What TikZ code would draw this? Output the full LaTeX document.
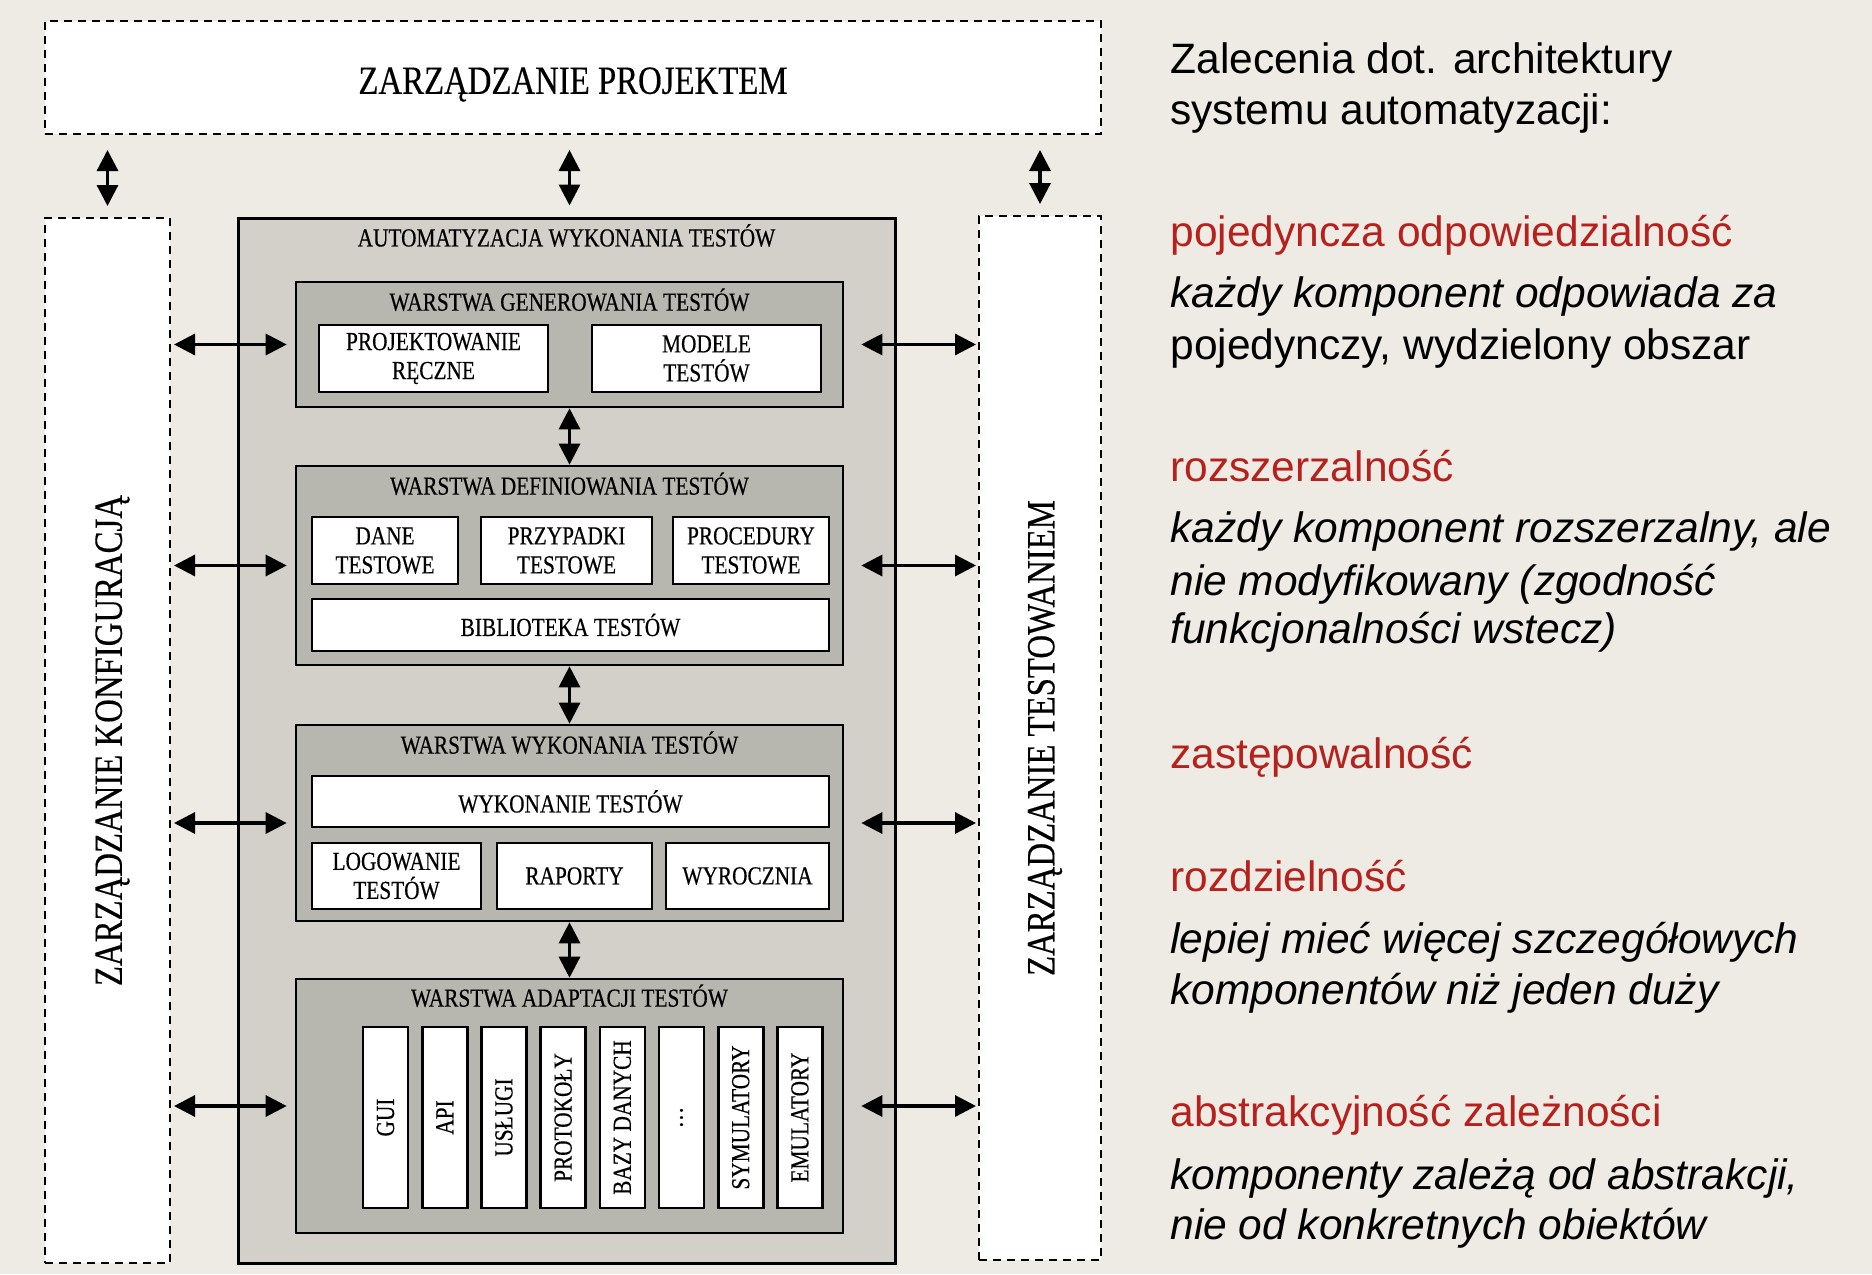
\documentclass[tikz,border=0pt]{standalone}
\usepackage{fontspec}
\setmainfont{Liberation Sans}
\newfontfamily\condserif{Liberation Serif}[FakeStretch=0.82, FakeBold=0.4]
\usetikzlibrary{arrows.meta}

\definecolor{slidebg}{HTML}{EEEBE4}
\definecolor{outergray}{HTML}{D3D0C9}
\definecolor{layergray}{HTML}{B8B7AF}
\definecolor{headred}{HTML}{B5221E}

\newcommand{\bigserif}{\condserif\fontsize{20}{24}\selectfont}
\newcommand{\smallserif}{\condserif\fontsize{13}{14.5}\selectfont}
\newcommand{\notefont}{\fontsize{21.25}{25.5}\selectfont}

\tikzset{
  dashbox/.style={draw, dash pattern=on 4pt off 3pt, line width=1pt, fill=white, inner sep=0pt},
  outerbox/.style={draw, line width=1.5pt, fill=outergray, inner sep=0pt},
  layerbox/.style={draw, line width=1.3pt, fill=layergray, inner sep=0pt},
  unitbox/.style={draw, line width=1.3pt, fill=white, align=center, font=\smallserif, inner sep=0pt},
  ttl/.style={font=\smallserif, inner sep=0pt},
  sidelabel/.style={font=\bigserif, rotate=90, inner sep=0pt},
  twoway/.style={{Triangle[length=10.5pt,width=10.5pt]}-{Triangle[length=10.5pt,width=10.5pt]}, line width=1.6pt},
  note/.style={anchor=base west, inner sep=0pt, font=\notefont},
  noteit/.style={note, font=\notefont\itshape},
  notehead/.style={note, text=headred}
}

\begin{document}
\begin{tikzpicture}[x=0.5pt, y=-0.5pt]
\fill[slidebg] (0,0) rectangle (1872,1274);
\useasboundingbox (0,0) rectangle (1872,1274);

% frames round the automation block
\node[dashbox, minimum width=528pt, minimum height=56.5pt] (proj) at (573,77.5) {};
\node[font=\bigserif, inner sep=0pt] (projt) at ([yshift=-3.5pt]proj.center) {ZARZĄDZANIE PROJEKTEM};
\node[dashbox, minimum width=62.5pt, minimum height=522.5pt] (konf) at (107.5,740.5) {};
\node[sidelabel] (konft) at ([xshift=2.5pt]konf.center) {ZARZĄDZANIE KONFIGURACJĄ};
\node[dashbox, minimum width=61pt, minimum height=522pt] (test) at (1040,738) {};
\node[sidelabel] (testt) at ([xshift=2.5pt]test.center) {ZARZĄDZANIE TESTOWANIEM};

% automation block
\node[outerbox, minimum width=328.5pt, minimum height=522.5pt] (auto) at (566.5,740.5) {};
\node[ttl] (autot) at ([yshift=-9.5pt]auto.north) {AUTOMATYZACJA WYKONANIA TESTÓW};

% layers
\node[layerbox, minimum width=273.5pt, minimum height=62.5pt] (gen) at (569.5,344.5) {};
\node[ttl] (gent) at ([yshift=-9.5pt]gen.north) {WARSTWA GENEROWANIA TESTÓW};
\node[layerbox, minimum width=273.5pt, minimum height=99.5pt] (def) at (569.5,565.5) {};
\node[ttl] (deft) at ([yshift=-9.5pt]def.north) {WARSTWA DEFINIOWANIA TESTÓW};
\node[layerbox, minimum width=273.5pt, minimum height=98pt] (wyk) at (569.5,823) {};
\node[ttl] (wykt) at ([yshift=-9.5pt]wyk.north) {WARSTWA WYKONANIA TESTÓW};
\node[layerbox, minimum width=273.5pt, minimum height=127pt] (ada) at (569.5,1106) {};
\node[ttl] (adat) at ([yshift=-9pt]ada.north) {WARSTWA ADAPTACJI TESTÓW};

% generation
\node[unitbox, minimum width=114.5pt, minimum height=33.5pt] (projr) at (433.5,358.5) {PROJEKTOWANIE\\RĘCZNE};
\node[unitbox, minimum width=114.5pt, minimum height=33.5pt] (model) at (706.5,358.5) {MODELE\\TESTÓW};

% definition
\node[unitbox, minimum width=73pt, minimum height=33.5pt] (dane) at (385,550.5) {DANE\\TESTOWE};
\node[unitbox, minimum width=85.5pt, minimum height=33.5pt] (przyp) at (566.5,550.5) {PRZYPADKI\\TESTOWE};
\node[unitbox, minimum width=78pt, minimum height=33.5pt] (proc) at (751,550.5) {PROCEDURY\\TESTOWE};
\node[unitbox, minimum width=258.5pt, minimum height=26pt] (bibl) at (570.5,625) {BIBLIOTEKA TESTÓW};

% execution
\node[unitbox, minimum width=258.5pt, minimum height=25.5pt] (wykon) at (570.5,801.5) {WYKONANIE TESTÓW};
\node[unitbox, minimum width=84.5pt, minimum height=33pt] (logo) at (396.5,876) {LOGOWANIE\\TESTÓW};
\node[unitbox, minimum width=77.5pt, minimum height=33pt] (rap) at (574.5,876) {RAPORTY};
\node[unitbox, minimum width=81.5pt, minimum height=33pt] (wyr) at (747.5,876) {WYROCZNIA};

% adaptation
\foreach \lab [count=\i from 0] in {GUI,API,USŁUGI,PROTOKOŁY,BAZY DANYCH,\ldots,SYMULATORY,EMULATORY}
  \node[unitbox, rotate=90, minimum width=90.5pt, minimum height=22.5pt] (bar\i) at (385.5+\i*59.2,1117.5) {\lab};

% arrows
\draw[twoway, shorten <=7.5pt, shorten >=5.5pt] (proj.south -| konf.north) -- (konf.north);
\draw[twoway, shorten <=7.5pt, shorten >=5.5pt] (proj.south -| gen.north) -- (gen.north |- auto.north);
\draw[twoway, shorten <=7.5pt, shorten >=5.5pt] (proj.south -| test.north) -- (test.north);
\draw[twoway] (gen.south) -- (def.north);
\draw[twoway] (def.south) -- (wyk.north);
\draw[twoway] (wyk.south) -- (ada.north);
\foreach \lay in {gen,def,wyk,ada} {
  \draw[twoway, shorten <=1.5pt, shorten >=4pt] (konf.east |- \lay.west) -- (\lay.west);
  \draw[twoway, shorten <=8.5pt, shorten >=1pt] (\lay.east) -- (test.west |- \lay.east);
}

% notes
\node[note] (intro1) at (1170,73) {Zalecenia dot. architektury};
\node[note] (intro2) at (1170,124) {systemu automatyzacji:};
\node[notehead] (head1) at (1170,246) {pojedyncza odpowiedzialność};
\node[noteit] (body1a) at (1170,307) {każdy komponent odpowiada za};
\node[note] (body1b) at (1170,359) {pojedynczy, wydzielony obszar};
\node[notehead] (head2) at (1170,481) {rozszerzalność};
\node[noteit] (body2a) at (1170,542) {każdy komponent rozszerzalny, ale};
\node[noteit] (body2b) at (1170,595) {nie modyfikowany (zgodność};
\node[noteit] (body2c) at (1170,643) {funkcjonalności wstecz)};
\node[notehead] (head3) at (1170,768) {zastępowalność};
\node[notehead] (head4) at (1170,891) {rozdzielność};
\node[noteit] (body4a) at (1170,953) {lepiej mieć więcej szczegółowych};
\node[noteit] (body4b) at (1170,1004) {komponentów niż jeden duży};
\node[notehead] (head5) at (1170,1126) {abstrakcyjność zależności};
\node[noteit] (body5a) at (1170,1189) {komponenty zależą od abstrakcji,};
\node[noteit] (body5b) at (1170,1239) {nie od konkretnych obiektów};
\end{tikzpicture}
\end{document}
